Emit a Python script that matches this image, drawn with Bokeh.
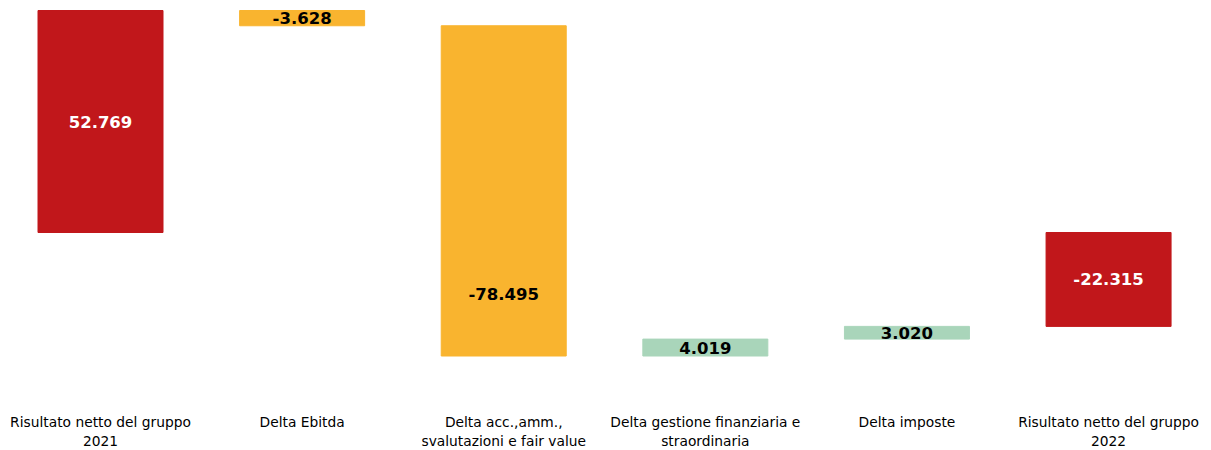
from bokeh.plotting import figure
from bokeh.models import ColumnDataSource, FixedTicker
from bokeh.core.properties import value
from bokeh.embed import file_html
from bokeh.resources import INLINE

categories = ["Risultato netto del gruppo\n2021", "Delta Ebitda",
              "Delta acc.,amm.,\nsvalutazioni e fair value",
              "Delta gestione finanziaria e\nstraordinaria", "Delta imposte",
              "Risultato netto del gruppo\n2022"]
values = [52.769, -3.628, -78.495, 4.019, 3.020, -22.315]
labels = ["52.769", "-3.628", "-78.495", "4.019", "3.020", "-22.315"]
kinds = ["total", "delta", "delta", "delta", "delta", "total"]
colors = ["#C1171B", "#F9B42F", "#F9B42F", "#A9D5BA", "#A9D5BA", "#C1171B"]
text_colors = ["white", "black", "black", "black", "black", "white"]

x = list(range(len(categories)))
bottoms, tops = [], []
running = 0.0
for v, k in zip(values, kinds):
    if k == "total":
        b, t = 0.0, v
        running = v
    else:
        b, t = running, running + v
        running += v
    bottoms.append(min(b, t))
    tops.append(max(b, t))

# label placed like a stacked-bar waterfall: on the segment below zero when a bar crosses zero
mids = []
for b, t in zip(bottoms, tops):
    if b < 0 < t:
        mids.append(b / 2)
    else:
        mids.append((b + t) / 2)

src = ColumnDataSource(dict(x=x, bottom=bottoms, top=tops, mid=mids,
                            color=colors, label=labels, tcolor=text_colors))

p = figure(frame_width=1200, frame_height=396, output_backend="svg",
           toolbar_location=None, x_range=(-0.496, 5.456), y_range=(-38.98, 55.146),
           min_border=0, outline_line_color=None)
p.vbar(x="x", bottom="bottom", top="top", width=0.62, color="color", source=src)
p.text(x="x", y="mid", text="label", text_color="tcolor", source=src,
       text_align="center", text_baseline="middle",
       text_font=value("DejaVu Sans"), text_font_style="bold", text_font_size="16.5px")

p.grid.visible = False
p.yaxis.visible = False
ax = p.xaxis[0]
ax.ticker = FixedTicker(ticks=x)
ax.major_label_overrides = {i: c for i, c in enumerate(categories)}
ax.axis_line_color = None
ax.major_tick_line_color = None
ax.minor_tick_line_color = None
ax.major_label_standoff = 11
ax.major_label_text_font = "DejaVu Sans"
ax.major_label_text_font_size = "13.8px"
ax.major_label_text_color = "black"

open("out.html", "w").write(file_html(p, INLINE))
